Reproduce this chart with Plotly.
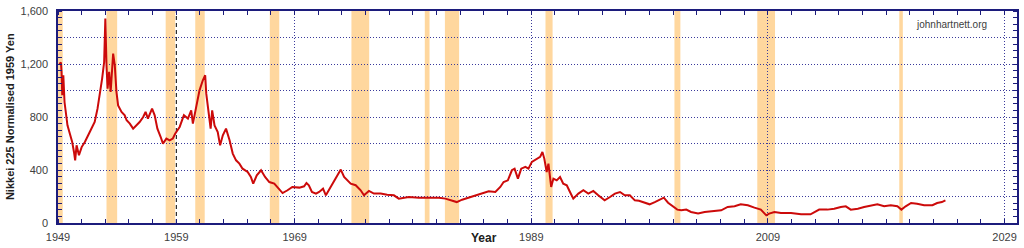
import plotly.graph_objects as go

# ---- Data ----
years = [1949.1, 1949.25, 1949.3, 1949.36, 1949.45, 1949.55, 1949.8, 1950.2, 1950.35, 1950.45,
         1950.57, 1950.77, 1951.0, 1951.27, 1951.55, 1951.84, 1952.1, 1952.34, 1952.54, 1952.73,
         1952.9, 1953.0, 1953.1, 1953.19, 1953.32, 1953.45, 1953.66, 1953.8, 1953.94, 1954.08,
         1954.37, 1954.64, 1954.8, 1955.07, 1955.35, 1955.63, 1955.9, 1956.2, 1956.4, 1956.6,
         1956.95, 1957.17, 1957.4, 1957.68, 1957.87, 1958.16, 1958.44, 1958.7, 1958.9, 1959.28,
         1959.64, 1959.98, 1960.26, 1960.4, 1960.7, 1960.96, 1961.24, 1961.44, 1961.53, 1961.75,
         1961.9, 1962.03, 1962.23, 1962.5, 1962.7, 1962.93, 1963.2, 1963.5, 1963.77, 1964.05,
         1964.33, 1964.6, 1965.03, 1965.3, 1965.5, 1965.8, 1966.16, 1966.5, 1966.86, 1967.28,
         1967.7, 1967.98, 1968.4, 1968.8, 1969.4, 1969.8, 1970.0, 1970.2, 1970.46, 1970.8,
         1971.07, 1971.4, 1971.64, 1972.06, 1972.48, 1972.9, 1973.18, 1973.46, 1973.74, 1974.16,
         1974.58, 1974.86, 1975.28, 1975.7, 1976.27, 1976.82, 1977.39, 1977.8, 1978.65, 1979.5,
         1980.3, 1981.2, 1981.74, 1982.3, 1982.7, 1983.15, 1983.7, 1984.27, 1984.83, 1985.4,
         1985.96, 1986.38, 1986.66, 1987.02, 1987.36, 1987.59, 1987.87, 1988.15, 1988.5, 1988.76,
         1989.05, 1989.47, 1989.75, 1989.94, 1990.1, 1990.3, 1990.45, 1990.68, 1990.87, 1991.15,
         1991.43, 1991.7, 1992.0, 1992.27, 1992.55, 1992.98, 1993.4, 1993.82, 1994.24, 1994.66,
         1995.2, 1995.65, 1996.07, 1996.5, 1996.9, 1997.33, 1997.75, 1998.1, 1998.65, 1999.0,
         1999.44, 1999.86, 2000.2, 2000.56, 2000.98, 2001.34, 2001.68, 2002.1, 2002.5, 2003.1,
         2003.65, 2004.35, 2005.05, 2005.6, 2006.18, 2006.7, 2007.3, 2007.86, 2008.4, 2008.86,
         2009.1, 2009.55, 2010.1, 2010.95, 2011.8, 2012.6, 2012.9, 2013.33, 2014.03, 2014.6,
         2015.16, 2015.58, 2016.0, 2016.6, 2017.13, 2017.7, 2018.25, 2018.82, 2019.38, 2019.94,
         2020.28, 2020.64, 2021.1, 2021.6, 2022.2, 2022.9, 2023.3, 2023.7, 2024.0]
nikkei_1959_yen = [1200, 1210, 1140, 964, 1115, 913, 737, 611, 536, 473,
                   586, 511, 573, 611, 662, 712, 762, 863, 964, 1090,
                   1215, 1543, 1190, 1014, 1140, 989, 1278, 1190, 989, 888,
                   838, 813, 775, 750, 712, 737, 762, 800, 838, 788,
                   863, 813, 712, 649, 599, 637, 624, 637, 674, 725,
                   813, 788, 850, 750, 888, 1001, 1077, 1115, 976, 800,
                   712, 850, 737, 687, 586, 662, 712, 624, 524, 473,
                   448, 410, 385, 347, 297, 360, 398, 347, 309, 297,
                   259, 226, 247, 272, 267, 277, 302, 285, 234, 222,
                   234, 259, 209, 272, 335, 403, 347, 322, 297, 285,
                   247, 209, 242, 222, 222, 214, 209, 184, 196, 191,
                   191, 191, 184, 166, 158, 176, 191, 209, 226, 239,
                   234, 272, 309, 322, 398, 410, 335, 410, 423, 410,
                   461, 486, 499, 536, 486, 385, 448, 272, 335, 322,
                   347, 297, 285, 234, 184, 222, 247, 222, 242, 209,
                   171, 196, 222, 234, 209, 209, 171, 168, 150, 141,
                   158, 176, 191, 153, 121, 101, 96, 101, 83, 71,
                   83, 91, 96, 121, 126, 141, 134, 116, 101, 58,
                   71, 83, 76, 76, 66, 66, 83, 101, 101, 108,
                   121, 126, 101, 108, 121, 134, 141, 126, 134, 126,
                   101, 126, 151, 146, 134, 134, 151, 158, 171]

recession_start = [1949.0, 1953.1, 1958.1, 1960.6, 1966.9, 1973.8, 1980.0, 1981.7, 1990.2, 2001.1, 2008.1, 2020.1]
recession_end = [1949.4, 1954.0, 1958.9, 1961.4, 1967.7, 1975.3, 1980.4, 1982.9, 1990.8, 2001.6, 2009.6, 2020.4]

x_label_years = [1949, 1959, 1969, 1989, 2009, 2029]
x_grid_years = [1969, 1989, 2009, 2029]
reference_year = 1959
y_label_values = [0, 400, 800, 1200, 1600]

NAVY = "#1c1c7c"
GRID = "#3a3a9c"
FONT = "Liberation Sans, Arial, sans-serif"

fig = go.Figure()

fig.add_trace(go.Scatter(x=years, y=nikkei_1959_yen, mode="lines",
                         line=dict(color="#cc0a0a", width=2), hoverinfo="skip",
                         showlegend=False))

# invisible trace to activate the overlay axes used for gridlines
fig.add_trace(go.Scatter(x=[years[0]], y=[nikkei_1959_yen[0]], xaxis="x2", yaxis="y2",
                         mode="markers", marker=dict(opacity=0), showlegend=False,
                         hoverinfo="skip"))

shapes = []
for s, e in zip(recession_start, recession_end):
    shapes.append(dict(type="rect", xref="x", yref="paper", x0=s, x1=e, y0=0, y1=1,
                       fillcolor="#ffd79e", line=dict(width=0), layer="below"))
shapes.append(dict(type="line", xref="x", yref="paper", x0=reference_year, x1=reference_year,
                   y0=0, y1=1, line=dict(color="black", width=1, dash="4px,3px"), layer="below"))
fig.update_layout(shapes=shapes)

fig.update_layout(
    width=1024, height=248,
    margin=dict(l=58, r=5, t=11, b=25),
    paper_bgcolor="white", plot_bgcolor="white",
    font=dict(family=FONT, size=11, color="#404040"),
    xaxis=dict(range=[1949, 2030.05], tickmode="array", tickvals=x_label_years,
               ticks="", showgrid=False, zeroline=False,
               showline=True, linecolor=NAVY, linewidth=1.5, mirror="allticks",
               ticklabelstandoff=3,
               tickfont=dict(family=FONT, size=11, color="#404040"),
               minor=dict(tickmode="linear", tick0=1949, dtick=2, ticks="inside",
                          ticklen=4, tickcolor=NAVY, showgrid=False)),
    yaxis=dict(range=[0, 1600], tickmode="array", tickvals=y_label_values,
               tickformat=",d", ticks="", showgrid=False, zeroline=False,
               showline=True, linecolor=NAVY, linewidth=1.5, mirror="allticks",
               ticklabelstandoff=6,
               tickfont=dict(family=FONT, size=11, color="#404040"),
               minor=dict(tickmode="linear", tick0=0, dtick=50, ticks="inside",
                          ticklen=4, tickcolor=NAVY, showgrid=False)),
    xaxis2=dict(overlaying="x", matches="x", range=[1949, 2030.05], tickmode="array",
                tickvals=x_grid_years, showgrid=True, griddash="1px,2px", gridcolor=GRID,
                gridwidth=1, showticklabels=False, ticks="", showline=False, zeroline=False,
                layer="below traces"),
    yaxis2=dict(overlaying="y", matches="y", range=[0, 1600], tickmode="linear", tick0=0,
                dtick=200, showgrid=True, griddash="1px,2px", gridcolor=GRID, gridwidth=1,
                showticklabels=False, ticks="", showline=False, zeroline=False,
                layer="below traces"),
    annotations=[
        dict(text="<b>Nikkei 225 Normalised 1959 Yen</b>", xref="paper", yref="paper",
             x=(10 - 58) / 961, y=0.5, textangle=-90, showarrow=False,
             xanchor="center", yanchor="middle",
             font=dict(family=FONT, size=11, color="#202020")),
        dict(text="<b>Year</b>", xref="paper", yref="paper", x=(485 - 58) / 961,
             y=-(238 - 222.7) / 212, showarrow=False, xanchor="center", yanchor="middle",
             font=dict(family=FONT, size=12, color="#202020")),
        dict(text="johnhartnett.org", xref="paper", yref="paper", x=(953 - 58) / 961,
             y=(222.7 - 24) / 212, showarrow=False, xanchor="center", yanchor="middle",
             font=dict(family=FONT, size=10, color="#404040")),
    ],
)

fig.write_html("out.html")
